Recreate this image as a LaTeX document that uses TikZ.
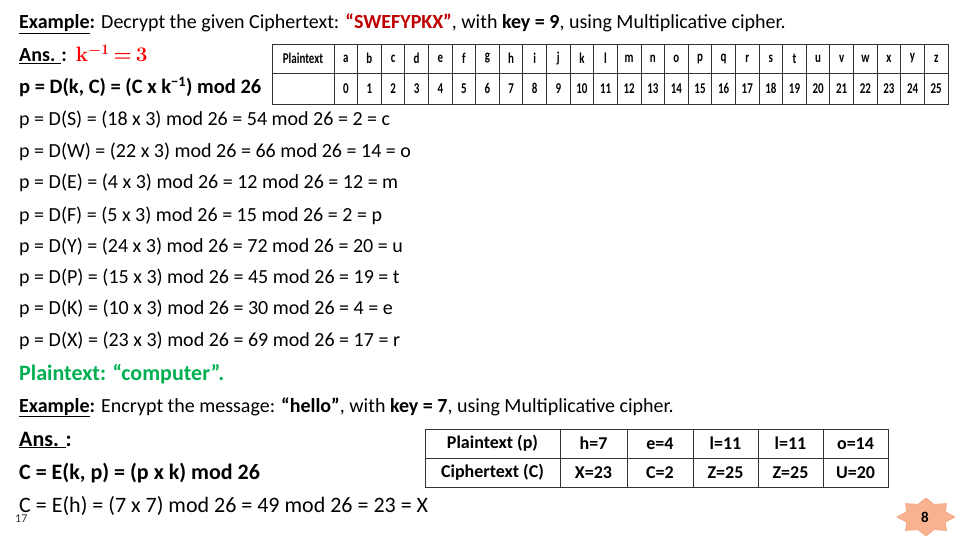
\documentclass[tikz,border=0pt]{standalone}
\usepackage{fontspec}
\setmainfont{Carlito}
\newfontfamily\tabfont[FakeStretch=0.73]{Carlito}
\definecolor{darkred}{HTML}{C00000}
\definecolor{brightred}{HTML}{FF0000}
\definecolor{okgreen}{HTML}{00B050}
\definecolor{badgefill}{HTML}{F8B290}
\definecolor{badgeline}{HTML}{F2A27C}
\begin{document}
\begin{tikzpicture}[x=1pt,y=-1pt,
  txt/.style={anchor=base west,inner sep=0pt,font=\fontsize{20}{24}\selectfont},
  bigtxt/.style={anchor=base west,inner sep=0pt,font=\fontsize{22}{26}\selectfont},
  tabtxt/.style={inner sep=0pt,font=\tabfont\bfseries\fontsize{15}{17}\selectfont},
  btxt/.style={inner sep=0pt,font=\bfseries\fontsize{18}{21}\selectfont},
  grid/.style={draw=black!80,line width=0.9pt}]
\useasboundingbox (0,0) rectangle (960,540);

% text lines
\node[txt] (l1) at (19,29) {\textbf{\underline{Example}:} Decrypt the given Ciphertext: \textbf{\color{darkred}“SWEFYPKX”}, with \textbf{key = 9}, using Multiplicative cipher.};
\node[txt] (l2) at (19,62) {\textbf{\underline{Ans. }:}\ \ \color{brightred}{\boldmath$\mathbf{k}^{-1}\mkern-2mu=\mkern-2mu\mathbf{3}$}};
\node[txt,font=\fontsize{20.5}{24}\selectfont] (l3) at (19,94) {\textbf{p = D(k, C) = (C x k\textsuperscript{−1}) mod 26}};
\node[txt] (l4) at (19,126) {p = D(S) = (18 x 3) mod 26 = 54 mod 26 = 2 = c};
\node[txt] (l5) at (19,158) {p = D(W) = (22 x 3) mod 26 = 66 mod 26 = 14 = o};
\node[txt] (l6) at (19,189) {p = D(E) = (4 x 3) mod 26 = 12 mod 26 = 12 = m};
\node[txt] (l7) at (19,221) {p = D(F) = (5 x 3) mod 26 = 15 mod 26 = 2 = p};
\node[txt] (l8) at (19,252) {p = D(Y) = (24 x 3) mod 26 = 72 mod 26 = 20 = u};
\node[txt] (l9) at (19,283) {p = D(P) = (15 x 3) mod 26 = 45 mod 26 = 19 = t};
\node[txt] (l10) at (19,314) {p = D(K) = (10 x 3) mod 26 = 30 mod 26 = 4 = e};
\node[txt] (l11) at (19,346) {p = D(X) = (23 x 3) mod 26 = 69 mod 26 = 17 = r};
\node[bigtxt] (l12) at (19,380) {\textbf{\color{okgreen}Plaintext: “computer”.}};
\node[txt] (l13) at (19,412) {\textbf{\underline{Example}:} Encrypt the message: \textbf{“hello”}, with \textbf{key = 7}, using Multiplicative cipher.};
\node[bigtxt] (l14) at (19,446) {\textbf{\underline{Ans. }:}};
\node[bigtxt] (l15) at (19,479) {\textbf{C = E(k, p) = (p x k) mod 26}};
\node[bigtxt] (l16) at (19,512) {C = E(h) = (7 x 7) mod 26 = 49 mod 26 = 23 = X};
\node[anchor=base west,inner sep=0pt,font=\fontsize{12}{14}\selectfont,text=black!80] (num) at (15,522) {17};

% top table
\draw[grid] (272,44) rectangle (948,104);
\draw[grid] (272,73) -- (948,73);
\foreach \k in {0,...,25} {\draw[grid] ({334+23.615*\k},44) -- ({334+23.615*\k},104);}
\node[tabtxt] (ph) at (303,58.5) {Plaintext};
\foreach \L [count=\i from 0] in {a,b,c,d,e,f,g,h,i,j,k,l,m,n,o,p,q,r,s,t,u,v,w,x,y,z} {
  \node[tabtxt] (pl\i) at ({334+23.615*(\i+0.5)},58.5) {\L};
  \node[tabtxt] (pn\i) at ({334+23.615*(\i+0.5)},88.5) {\i};
}

% bottom table
\draw[grid] (425,429) rectangle (888,487);
\draw[grid] (425,458) -- (888,458);
\foreach \xx in {560,627,693,758,823} {\draw[grid] (\xx,429) -- (\xx,487);}
\node[btxt] (bp) at (492.5,443.5) {Plaintext (p)};
\node[btxt] (bc) at (492.5,472.5) {Ciphertext (C)};
\node[btxt] (b1) at (593.5,443.5) {h=7};
\node[btxt] (b2) at (660,443.5) {e=4};
\node[btxt] (b3) at (725.5,443.5) {l=11};
\node[btxt] (b4) at (790.5,443.5) {l=11};
\node[btxt] (b5) at (855.5,443.5) {o=14};
\node[btxt] (c1) at (593.5,472.5) {X=23};
\node[btxt] (c2) at (660,472.5) {C=2};
\node[btxt] (c3) at (725.5,472.5) {Z=25};
\node[btxt] (c4) at (790.5,472.5) {Z=25};
\node[btxt] (c5) at (855.5,472.5) {U=20};

% badge
\draw[fill=badgefill,draw=badgeline,line width=0.6pt]
  (926+29,517) \foreach \k in {1,...,15} {
    -- ({926+29*(1-0.28*mod(\k,2))*cos(22.5*\k)},{517-19*(1-0.28*mod(\k,2))*sin(22.5*\k)})
  } -- cycle;
\node[inner sep=0pt,font=\bfseries\fontsize{15}{17}\selectfont] (badge) at (925,517) {8};
\end{tikzpicture}
\end{document}
